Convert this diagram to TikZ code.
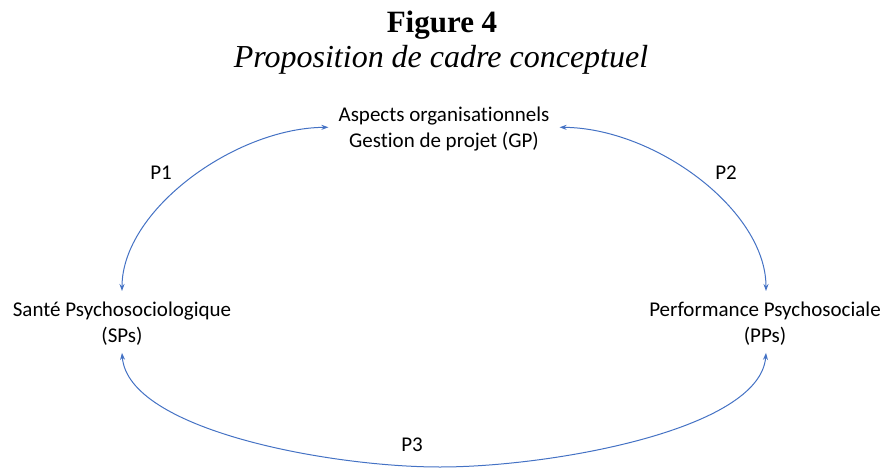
\documentclass[tikz,border=0pt]{standalone}
\usepackage{fontspec}
\setmainfont{Liberation Serif}
\newfontfamily\carl[Ligatures={NoCommon}]{Carlito}
\usetikzlibrary{arrows.meta}
\definecolor{lineblue}{RGB}{68,114,196}
\tikzset{
  lbl/.style={font=\carl\fontsize{21}{26}\selectfont, align=center, inner sep=0pt},
  link/.style={draw=lineblue, line width=1pt, {Stealth[length=7pt,width=5pt]}-{Stealth[length=7pt,width=5pt]}},
}
\begin{document}
\begin{tikzpicture}[x=1pt,y=-1pt]
\useasboundingbox (0,0) rectangle (885,468);
\node[font=\bfseries\fontsize{31}{36}\selectfont, anchor=base] (fig) at (442,33) {Figure 4};
\node[font=\itshape\fontsize{32}{36}\selectfont, anchor=base] (sub) at (441,68) {Proposition de cadre conceptuel};
\node[lbl, anchor=north] (gp) at (444,107) {Aspects organisationnels\\Gestion de projet (GP)};
\node[lbl, anchor=north] (sps) at (122,302) {Santé Psychosociologique\\(SPs)};
\node[lbl, anchor=north] (pps) at (765,302) {Performance Psychosociale\\(PPs)};
\node[lbl, anchor=base] (p1) at (161,179) {P1};
\node[lbl, anchor=base] (p2) at (726,179) {P2};
\node[lbl, anchor=base] (p3) at (412,451) {P3};
\draw[link] ([yshift=11pt]sps.north) .. controls (122,210) and (235,128) .. ([xshift=-10pt,yshift=2pt]gp.west);
\draw[link] ([xshift=10pt,yshift=2pt]gp.east) .. controls (655,128) and (766,210) .. ([xshift=1pt,yshift=11pt]pps.north);
\draw[link] ([yshift=-7pt]sps.south) .. controls (128,430) and (330,467) .. (440,467) .. controls (550,467) and (760,430) .. ([xshift=1pt,yshift=-7pt]pps.south);
\end{tikzpicture}
\end{document}
